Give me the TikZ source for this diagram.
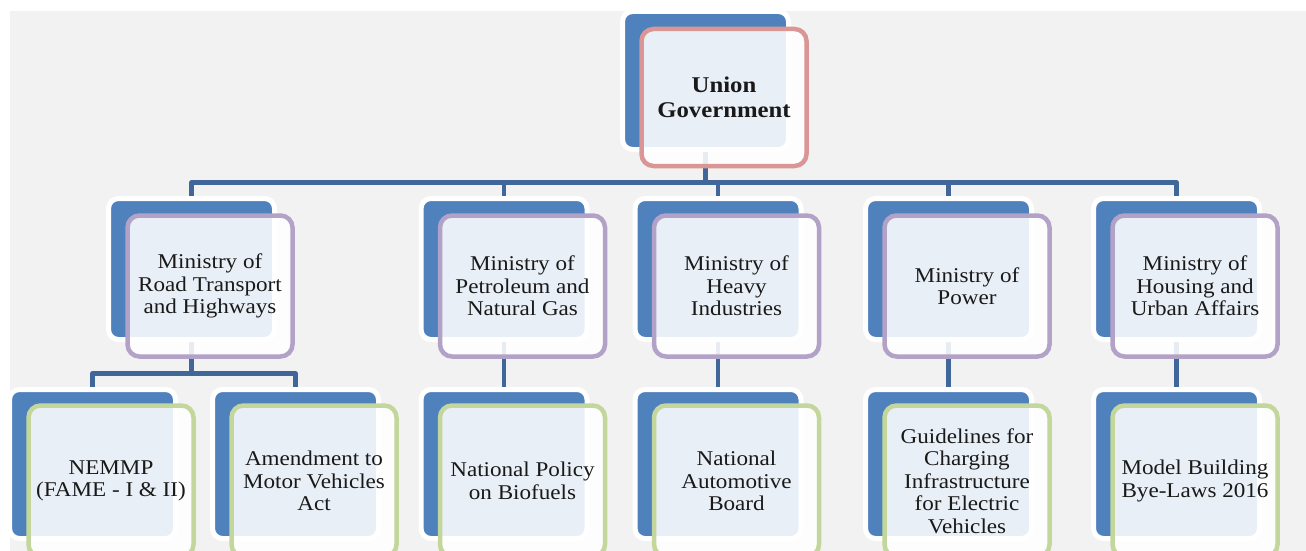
\documentclass[tikz,border=0pt]{standalone}
\usepackage{fontspec}
\setmainfont{Liberation Serif}[FakeStretch=1.1]
\usetikzlibrary{backgrounds}

\definecolor{bgray}{HTML}{F2F2F2}
\definecolor{accblue}{HTML}{4F81BD}
\definecolor{linkblue}{HTML}{41679A}
\definecolor{govpink}{HTML}{D99694}
\definecolor{minlilac}{HTML}{B3A2C7}
\definecolor{leafgreen}{HTML}{C3D69B}

\begin{document}
\begin{tikzpicture}[x=1pt, y=-1pt,
	backbox/.style={draw=white, line width=5pt, fill=accblue, rounded corners=10pt, minimum width=166pt},
	frontbox/.style={fill=white, fill opacity=.88, text opacity=1, line width=4.5pt, rounded corners=12pt,
		minimum width=165pt, xshift=18.5pt, yshift=-17pt, align=center, text=black!90,
		font=\fontsize{21}{22.5}\selectfont},
	govbox/.style={frontbox, draw=govpink, minimum height=137pt, font=\bfseries\fontsize{22.5}{25}\selectfont},
	minbox/.style={frontbox, draw=minlilac, minimum height=141pt},
	leafbox/.style={frontbox, draw=leafgreen, minimum height=151pt},
	link/.style={draw=linkblue, line width=4.5pt, line join=round}]
		\useasboundingbox (0,0) rectangle (1306,551);
		\clip (0,0) rectangle (1306,551);

		% top level
		\node[backbox, minimum height=138pt] (govb) at (705.5,80.5) {};
		\node[govbox] at (govb) (gov) {Union\\Government};

		% ministries
		\node[backbox, minimum height=141pt] (m1b) at (191.5,269) {};
		\node[minbox] at (m1b) (m1) {Ministry of\\Road Transport\\and Highways};
		\node[backbox, minimum height=141pt] (m2b) at (504,269) {};
		\node[minbox] at (m2b) (m2) {Ministry of\\Petroleum and\\Natural Gas};
		\node[backbox, minimum height=141pt] (m3b) at (718,269) {};
		\node[minbox] at (m3b) (m3) {Ministry of\\Heavy\\Industries};
		\node[backbox, minimum height=141pt] (m4b) at (948.5,269) {};
		\node[minbox] at (m4b) (m4) {Ministry of\\Power};
		\node[backbox, minimum height=141pt] (m5b) at (1176.5,269) {};
		\node[minbox] at (m5b) (m5) {Ministry of\\Housing and\\Urban Affairs};

		% schemes and policies
		\node[backbox, minimum height=149pt] (l1b) at (92.5,464) {};
		\node[leafbox] at (l1b) (l1) {NEMMP\\(FAME - I \& II)};
		\node[backbox, minimum height=149pt] (l2b) at (295.5,464) {};
		\node[leafbox] at (l2b) (l2) {Amendment to\\Motor Vehicles\\Act};
		\node[backbox, minimum height=149pt] (l3b) at (504,464) {};
		\node[leafbox] at (l3b) (l3) {National Policy\\on Biofuels};
		\node[backbox, minimum height=149pt] (l4b) at (718,464) {};
		\node[leafbox] at (l4b) (l4) {National\\Automotive\\Board};
		\node[backbox, minimum height=149pt] (l5b) at (948.5,464) {};
		\node[leafbox] at (l5b) (l5) {Guidelines for\\Charging\\Infrastructure\\for Electric\\Vehicles};
		\node[backbox, minimum height=149pt] (l6b) at (1176.5,464) {};
		\node[leafbox] at (l6b) (l6) {Model Building\\Bye-Laws 2016};

		\coordinate (bus) at (705.5,182.5);
		\coordinate (m1bus) at (191.5,373.5);

		\begin{scope}[on background layer]
			\fill[bgray] (10,11) rectangle (1306,551);
			\draw[link] (govb.south) -- (bus);
			\draw[link] (m1b.north) |- (bus);
			\draw[link] (m2b.north) |- (bus);
			\draw[link] (m3b.north) |- (bus);
			\draw[link] (m4b.north) |- (bus);
			\draw[link] (m5b.north) |- (bus);
			\draw[link] (m1b.south) -- (m1bus);
			\draw[link] (l1b.north) |- (m1bus);
			\draw[link] (l2b.north) |- (m1bus);
			\draw[link] (m2b.south) -- (l3b.north);
			\draw[link] (m3b.south) -- (l4b.north);
			\draw[link] (m4b.south) -- (l5b.north);
			\draw[link] (m5b.south) -- (l6b.north);
		\end{scope}
	\end{tikzpicture}
\end{document}
